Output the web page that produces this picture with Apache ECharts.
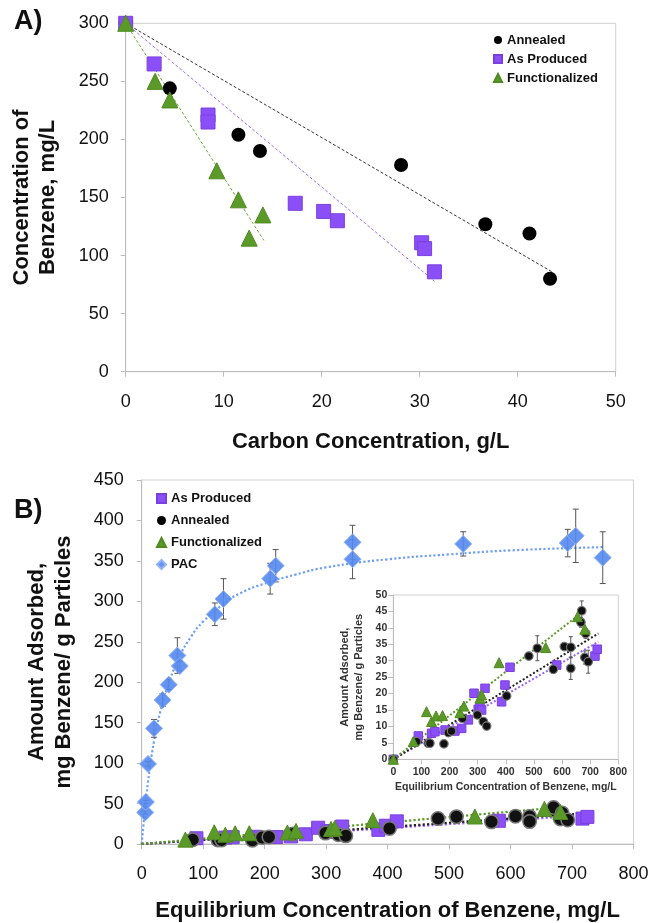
<!DOCTYPE html>
<html><head><meta charset="utf-8">
<script src="https://cdn.jsdelivr.net/npm/echarts@6/dist/echarts.min.js"></script>
<style>html,body{margin:0;padding:0;background:#fff}#c{width:653px;height:923px}</style>
</head><body><div id="c"></div>
<script>
// ---------- Panel A data ----------
const aAnnealed = [[0,300],[4.5,244],[11.5,204],[13.7,190],[28.1,178],[36.7,127],[41.2,119],[43.3,80]];
const aAsProduced = [[0,300],[2.9,265],[8.4,221],[8.4,215],[17.3,145],[20.2,138],[21.6,130],[30.2,111],[30.5,106],[31.5,86]];
const aFunctionalized = [[0,300],[3,250],[4.5,234],[9.3,173],[11.5,148],[12.6,115],[14,135]];
const aFitAnnealed = [[0,300],[43.5,86]];
const aFitAsProduced = [[0,300],[31.5,78]];
const aFitFunctionalized = [[0,300],[14.1,113]];
const aXTicks = {min:0, max:50, interval:10};
const aYTicks = {min:0, max:300, interval:50};

// ---------- Panel B data ----------
const pac = [[5.7,39],[6.8,52],[10.3,99],[20,143],[34,178],[44,197],[58,233],[62,220],[119,284],[133,303],[209,328],[218,344],[343,352],[343,373],[523,371],[693,372],[706,381],[750,354]];
const pacErr = [2,2,3,11,8,6,22,6,14,25,19,20,24,21,15,17,33,32];
const pacFit = [[0,0],[5,40],[10,75],[20,127],[30,163],[40,190],[60,229],[80,256],[100,275],[130,295],[160,310],[200,322],[250,333],[300,342],[400,352],[500,358],[600,363],[750,367]];
const bAsProduced = [[89,7.1],[136,7.9],[148,8.4],[184,8.9],[219,8.6],[243,9.4],[267,12],[287,20.1],[302,15.2],[308,16],[314,15],[326,21.6],[385,17.5],[397,22.6],[415,28],[581,28.7],[717,31.4],[725,33.5]];
const bAnnealed = [[83,5.4],[124,4.9],[130,4.9],[180,4.7],[196,8.1],[207,8.6],[246,12.5],[299,13.5],[320,11.5],[332,10.1],[403,19.3],[482,31.4],[512,33.8],[569,27.4],[608,34.3],[631,34.1],[631,27.7],[667,41.7],[670,45.2],[681,31],[684,38.3],[693,29.7]];
const bAnnealedErr = [0.8,0.8,0.8,0.8,0.8,0.8,1,0.8,0.8,0.8,1,0.8,3.8,1.3,1,3.2,3.4,1.5,3,2,1.5,3.5];
const bFunctionalized = [[71,5.4],[118,14.5],[136,11.5],[152,13.2],[175,13.3],[237,14.2],[251,16.2],[308,18.6],[314,19.6],[376,29.4],[542,34],[655,43.4],[681,39.6]];
const bFitAsProduced = [[0,0],[729,35.8]];
const bFitAnnealed = [[0,0],[729,38.3]];
const bFitFunctionalized = [[0,0],[680,45.3]];
const insetOrigin = [0,0];
const bXTicks = {min:0, max:800, interval:100};
const bYTicks = {min:0, max:450, interval:50};
const insetYTicks = {min:0, max:50, interval:5};

// ---------- styles ----------
const FF = "'Liberation Sans', Arial, sans-serif";
const C_BLACK = '#000000', C_PURPLE = '#8a4ff6', C_GREEN = '#5b9a28';
const axisGray = '#bdbdbd';

function axisCommon(fs, color, margin, bold){
  return {
    axisLine:{show:true, lineStyle:{color:axisGray, width:1}},
    axisTick:{show:true, inside:false, length:5, lineStyle:{color:axisGray}},
    splitLine:{show:false},
    axisLabel:{fontSize:fs, color:color, margin:margin, fontFamily:FF, fontWeight: bold?'bold':'normal'}
  };
}
function errSeries(pts, errs, xi, yi, color, cap){
  return {type:'custom', xAxisIndex:xi, yAxisIndex:yi, silent:true, z:2,
    data: pts.map((p,i)=>[p[0],p[1],errs[i]]),
    encode:{x:0,y:1},
    renderItem:(params, api)=>{
      const x=api.value(0), y=api.value(1), e=api.value(2);
      const t=api.coord([x,y+e]), b=api.coord([x,y-e]);
      const st={stroke:color,lineWidth:1};
      return {type:'group', children:[
        {type:'line', shape:{x1:t[0],y1:t[1],x2:b[0],y2:b[1]}, style:st},
        {type:'line', shape:{x1:t[0]-cap,y1:t[1],x2:t[0]+cap,y2:t[1]}, style:st},
        {type:'line', shape:{x1:b[0]-cap,y1:b[1],x2:b[0]+cap,y2:b[1]}, style:st}
      ]};
    }};
}
function fitLine(data, xi, yi, color, type, width, smooth){
  return {type:'line', xAxisIndex:xi, yAxisIndex:yi, data:data, symbol:'none', silent:true, smooth:!!smooth, z:1,
    lineStyle:{color:color, width:width, type:type}};
}
function sc(name, data, xi, yi, symbol, size, color, border, bw){
  return {type:'scatter', name:name, xAxisIndex:xi, yAxisIndex:yi, data:data, symbol:symbol, symbolSize:size, z:4,
    itemStyle:{color:color, borderColor:border||color, borderWidth:bw||0, opacity:1}};
}

const chart = echarts.init(document.getElementById('c'), null, {renderer:'canvas'});
const option = {
  animation:false,
  backgroundColor:'#ffffff',
  textStyle:{fontFamily:FF},
  grid:[
    {left:125.7, top:23.3, width:490, height:348.4, show:true, borderColor:'#d0d0d0', borderWidth:1, backgroundColor:'transparent'},
    {left:141.7, top:480, width:491.8, height:365, show:true, borderColor:'#d0d0d0', borderWidth:1, backgroundColor:'transparent'},
    {left:393.3, top:595, width:225, height:164.3, show:true, borderColor:'#d0d0d0', borderWidth:1, backgroundColor:'#ffffff'}
  ],
  xAxis:[
    Object.assign({type:'value', gridIndex:0, min:aXTicks.min, max:aXTicks.max, interval:aXTicks.interval,
      name:'Carbon Concentration, g/L', nameLocation:'middle', nameGap:59,
      nameTextStyle:{fontSize:22, fontWeight:'bold', color:'#111', fontFamily:FF}}, axisCommon(18,'#111',21)),
    Object.assign({type:'value', gridIndex:1, min:bXTicks.min, max:bXTicks.max, interval:bXTicks.interval,
      name:'Equilibrium Concentration of Benzene, mg/L', nameLocation:'middle', nameGap:56,
      nameTextStyle:{fontSize:22, fontWeight:'bold', color:'#111', fontFamily:FF}}, axisCommon(18,'#111',21)),
    Object.assign({type:'value', gridIndex:2, min:bXTicks.min, max:bXTicks.max, interval:bXTicks.interval,
      name:'Equilibrium Concentration of Benzene, mg/L', nameLocation:'middle', nameGap:22,
      nameTextStyle:{fontSize:10.5, fontWeight:'bold', color:'#333', fontFamily:FF}}, axisCommon(10.5,'#333',7,true))
  ],
  yAxis:[
    Object.assign({type:'value', gridIndex:0, min:aYTicks.min, max:aYTicks.max, interval:aYTicks.interval,
      name:'Concentration of\nBenzene, mg/L', nameLocation:'middle', nameGap:64,
      nameTextStyle:{fontSize:22, fontWeight:'bold', color:'#111', lineHeight:26.6, fontFamily:FF}}, axisCommon(18,'#111',17)),
    Object.assign({type:'value', gridIndex:1, min:bYTicks.min, max:bYTicks.max, interval:bYTicks.interval,
      name:'Amount Adsorbed,\nmg Benzene/ g Particles', nameLocation:'middle', nameGap:64,
      nameTextStyle:{fontSize:22, fontWeight:'bold', color:'#111', lineHeight:27, fontFamily:FF}}, axisCommon(18,'#111',18)),
    Object.assign({type:'value', gridIndex:2, min:insetYTicks.min, max:insetYTicks.max, interval:insetYTicks.interval,
      name:'Amount Adsorbed,\nmg Benzene/ g Particles', nameLocation:'middle', nameGap:28,
      nameTextStyle:{fontSize:11, fontWeight:'bold', color:'#333', lineHeight:13.3, fontFamily:FF}}, axisCommon(10.5,'#333',6,true))
  ],
  legend:[
    {data:['Annealed','As Produced','Functionalized'], orient:'vertical', left:488, top:28, itemWidth:8, itemHeight:8, itemGap:5,
      textStyle:{fontSize:13, fontWeight:'bold', color:'#111', fontFamily:FF, lineHeight:14}, selectedMode:false},
    {data:['As Produced','Annealed','Functionalized','PAC'], orient:'vertical', left:151, top:486, itemWidth:9, itemHeight:9, itemGap:7,
      textStyle:{fontSize:13, fontWeight:'bold', color:'#111', fontFamily:FF, lineHeight:15}, selectedMode:false}
  ],
  graphic:[
    {type:'text', left:14, top:8, style:{text:'A)', font:'bold 27px '+FF, fill:'#111'}},
    {type:'text', left:14, top:497, style:{text:'B)', font:'bold 27px '+FF, fill:'#111'}}
  ],
  series:[
    // Panel A
    fitLine(aFitAnnealed,0,0,'#333',[3,2],1),
    fitLine(aFitAsProduced,0,0,'#9d6cff',[3,2],1),
    fitLine(aFitFunctionalized,0,0,'#6aa83a',[3,2],1),
    sc('Annealed', aAnnealed,0,0,'circle',14,C_BLACK),
    sc('As Produced', aAsProduced,0,0,'rect',14,C_PURPLE,'#7b3fe0',1),
    sc('Functionalized', aFunctionalized,0,0,'triangle',16,C_GREEN,'#4f8a20',1),
    // Panel B main
    fitLine(pacFit,1,1,'#6f9ef7','dotted',2.2,true),
    fitLine(bFitAsProduced,1,1,'#9a63ff','dotted',2.2),
    fitLine(bFitAnnealed,1,1,'#222','dotted',2.2),
    fitLine(bFitFunctionalized,1,1,'#5b9a28','dotted',2.2),
    errSeries(pac, pacErr,1,1,'#555',3),
    sc('PAC', pac,1,1,'diamond',17,'rgba(85,138,240,0.9)','#93b3f6',1),
    sc('As Produced', bAsProduced,1,1,'rect',13,C_PURPLE,'#7b3fe0',1),
    sc('Annealed', bAnnealed,1,1,'circle',13.5,'#111','#777',1.5),
    sc('Functionalized', bFunctionalized,1,1,'triangle',15,C_GREEN,'#4f8a20',1),
    // Inset
    fitLine(bFitAsProduced,2,2,'#9a63ff','dotted',2),
    fitLine(bFitAnnealed,2,2,'#222','dotted',2),
    fitLine(bFitFunctionalized,2,2,'#5b9a28','dotted',2),
    errSeries(bAnnealed, bAnnealedErr,2,2,'#555',2),
    sc('As Produced', [insetOrigin].concat(bAsProduced),2,2,'rect',8.5,C_PURPLE,'#7b3fe0',1),
    sc('Annealed', [insetOrigin].concat(bAnnealed),2,2,'circle',8.5,'#111','#777',1.2),
    sc('Functionalized', [insetOrigin].concat(bFunctionalized),2,2,'triangle',10,C_GREEN,'#4f8a20',1)
  ]
};
chart.setOption(option);
</script>
</body></html>
